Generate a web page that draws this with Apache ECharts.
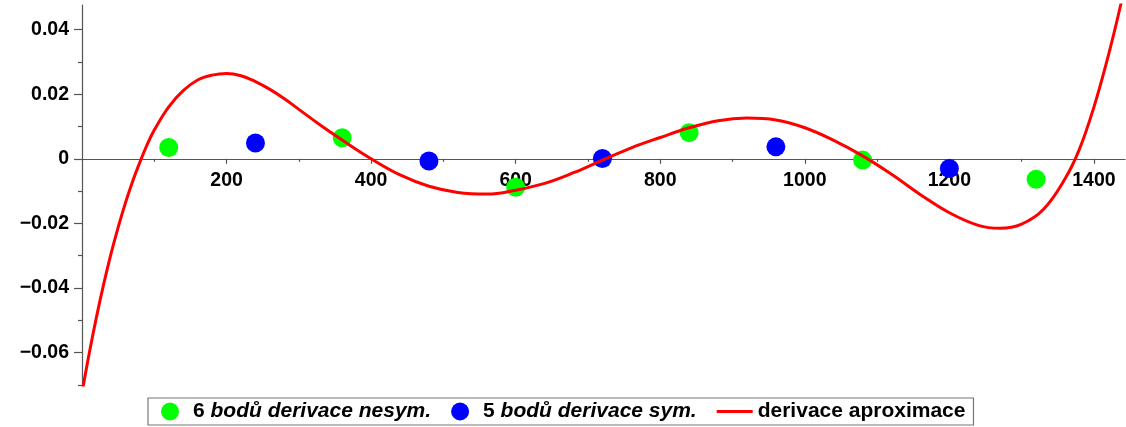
<!DOCTYPE html>
<html>
<head>
<meta charset="utf-8">
<script src="https://cdn.jsdelivr.net/npm/echarts@6/dist/echarts.min.js"></script>
<style>
html,body{margin:0;padding:0;background:#fff;}
#chart{width:1126px;height:427px;}
</style>
</head>
<body>
<div id="chart"></div>
<script>
// ---- data ----
const nesymX = [120, 360, 600, 840, 1080, 1320];
const nesymY = [0.0035, 0.0065, -0.0088, 0.0081, -0.0004, -0.0063];
const symX = [240, 480, 720, 960, 1200];
const symY = [0.0049, -0.0007, 0.0001, 0.0037, -0.0030];
const curveX = [0, 10, 20, 30, 40, 50, 60, 70, 80, 90, 100, 120, 140, 160, 180, 200, 220, 240, 260, 280, 300, 330, 360, 400, 440, 480, 520, 560, 600, 640, 680, 720, 760, 800, 840, 880, 920, 960, 1000, 1040, 1080, 1120, 1160, 1200, 1240, 1270, 1300, 1330, 1360, 1380, 1400, 1420, 1437, 1445];
const curveY = [-0.0725, -0.0602, -0.0490, -0.0388, -0.0295, -0.0212, -0.0137, -0.0070, -0.0011, 0.0043, 0.0089, 0.0161, 0.0211, 0.0244, 0.0259, 0.0264, 0.0257, 0.0239, 0.0215, 0.0186, 0.0153, 0.0104, 0.0058, 0.0000, -0.0050, -0.0085, -0.0104, -0.0109, -0.0097, -0.0076, -0.0043, -0.0004, 0.0034, 0.0066, 0.0096, 0.0118, 0.0126, 0.0120, 0.0096, 0.0057, 0.0009, -0.0048, -0.0111, -0.0167, -0.0206, -0.0215, -0.0202, -0.0157, -0.0062, 0.0030, 0.0160, 0.0320, 0.0476, 0.0560];
const seriesNames = ['6 bodů derivace nesym.', '5 bodů derivace sym.', 'derivace aproximace'];
const xTickValues = [200, 400, 600, 800, 1000, 1200, 1400];
const xTickLabels = ['200', '400', '600', '800', '1000', '1200', '1400'];
const xMinorTicks = [100, 300, 500, 700, 900, 1100, 1300];
const yTickValues = [-0.06, -0.04, -0.02, 0, 0.02, 0.04];
const yTickLabels = ['\u22120.06', '\u22120.04', '\u22120.02', '0', '0.02', '0.04'];
const yMinorTicks = [-0.07, -0.05, -0.03, -0.01, 0.01, 0.03];
const xRange = [0, 1443];
const yRange = [-0.07, 0.0476];

function zip(a, b) { return a.map((v, i) => [v, b[i]]); }
function lookup(vals, labels, v) {
  for (let i = 0; i < vals.length; i++) if (Math.abs(vals[i] - v) < 1e-9) return labels[i];
  return '';
}

const FONT = '"Liberation Sans", Arial, Helvetica, sans-serif';
const AXIS_COLOR = '#555555';
const GRID = {left: 82, right: 1, top: 5, bottom: 42};

const chart = echarts.init(document.getElementById('chart'), null, {renderer: 'canvas'});
chart.setOption({
  animation: false,
  backgroundColor: '#ffffff',
  textStyle: {fontFamily: FONT},
  grid: Object.assign({containLabel: false}, GRID),
  xAxis: [
    {
      type: 'value', min: xRange[0], max: xRange[1], position: 'bottom', offset: 0,
      axisLine: {show: true, onZero: false, lineStyle: {color: AXIS_COLOR, width: 1.2}},
      axisTick: {show: true, customValues: xTickValues, length: 5, lineStyle: {color: AXIS_COLOR, width: 1.2}},
      axisLabel: {show: true, customValues: xTickValues, margin: 12,
        formatter: v => lookup(xTickValues, xTickLabels, v),
        color: '#000', fontFamily: FONT, fontWeight: 'bold', fontSize: 19.5},
      splitLine: {show: false}
    },
    {
      type: 'value', min: xRange[0], max: xRange[1], position: 'bottom', offset: 0,
      axisLine: {show: false, onZero: false},
      axisTick: {show: true, customValues: xMinorTicks, length: 3, lineStyle: {color: AXIS_COLOR, width: 1.2}},
      axisLabel: {show: false},
      splitLine: {show: false}
    }
  ],
  yAxis: [
    {
      type: 'value', min: yRange[0], max: yRange[1], position: 'left',
      axisLine: {show: true, onZero: false, lineStyle: {color: AXIS_COLOR, width: 1.2}},
      axisTick: {show: true, customValues: yTickValues, length: 8, lineStyle: {color: AXIS_COLOR, width: 1.2}},
      axisLabel: {show: true, customValues: yTickValues, margin: 13,
        formatter: v => lookup(yTickValues, yTickLabels, v),
        color: '#000', fontFamily: FONT, fontWeight: 'bold', fontSize: 19.5},
      splitLine: {show: false}
    },
    {
      type: 'value', min: yRange[0], max: yRange[1], position: 'left',
      axisLine: {show: false, onZero: false},
      axisTick: {show: true, customValues: yMinorTicks, length: 4, lineStyle: {color: AXIS_COLOR, width: 1.2}},
      axisLabel: {show: false},
      splitLine: {show: false}
    }
  ],
  legend: {
    left: 148, top: 398,
    orient: 'horizontal',
    padding: [3, 8, 3, 13],
    itemGap: 20,
    itemWidth: 36,
    itemHeight: 18,
    borderColor: '#777777',
    borderWidth: 1.2,
    selectedMode: false,
    data: [
      {name: seriesNames[0], icon: 'circle'},
      {name: seriesNames[1], icon: 'circle'},
      {name: seriesNames[2], icon: 'path://M0,0H36V3H0Z', itemStyle: {color: '#ff0000'}}
    ],
    formatter: function (name) {
      if (name === seriesNames[0]) return '{n|6 }{i|bodů derivace nesym.}';
      if (name === seriesNames[1]) return '{n|5 }{i|bodů derivace sym.}';
      return '{n|' + name + '}';
    },
    textStyle: {
      fontFamily: FONT, fontSize: 21, fontWeight: 'bold', color: '#000',
      rich: {
        n: {fontFamily: FONT, fontSize: 21, fontWeight: 'bold', fontStyle: 'normal', color: '#000'},
        i: {fontFamily: FONT, fontSize: 21, fontWeight: 'bold', fontStyle: 'italic', color: '#000'}
      }
    }
  },
  series: [
    {
      name: seriesNames[0], type: 'scatter', xAxisIndex: 0, yAxisIndex: 0,
      symbol: 'circle', symbolSize: 19,
      itemStyle: {color: '#00ff00', opacity: 1},
      data: zip(nesymX, nesymY)
    },
    {
      name: seriesNames[1], type: 'scatter', xAxisIndex: 0, yAxisIndex: 0,
      symbol: 'circle', symbolSize: 19,
      itemStyle: {color: '#0000ff', opacity: 1},
      data: zip(symX, symY)
    },
    {
      name: seriesNames[2], type: 'line', xAxisIndex: 0, yAxisIndex: 0,
      showSymbol: false, symbol: 'none', smooth: 0.4, clip: true,
      color: '#ff0000',
      lineStyle: {color: '#ff0000', width: 3},
      itemStyle: {color: '#ff0000'},
      data: zip(curveX, curveY)
    }
  ]
});

// place the x axis on y = 0 using the library's own y scale
const zeroPx = chart.convertToPixel({yAxisIndex: 0}, 0);
const bottomPx = chart.getHeight() - GRID.bottom;
const off = zeroPx - bottomPx;
chart.setOption({xAxis: [{offset: off}, {offset: off}]});
</script>
</body>
</html>
